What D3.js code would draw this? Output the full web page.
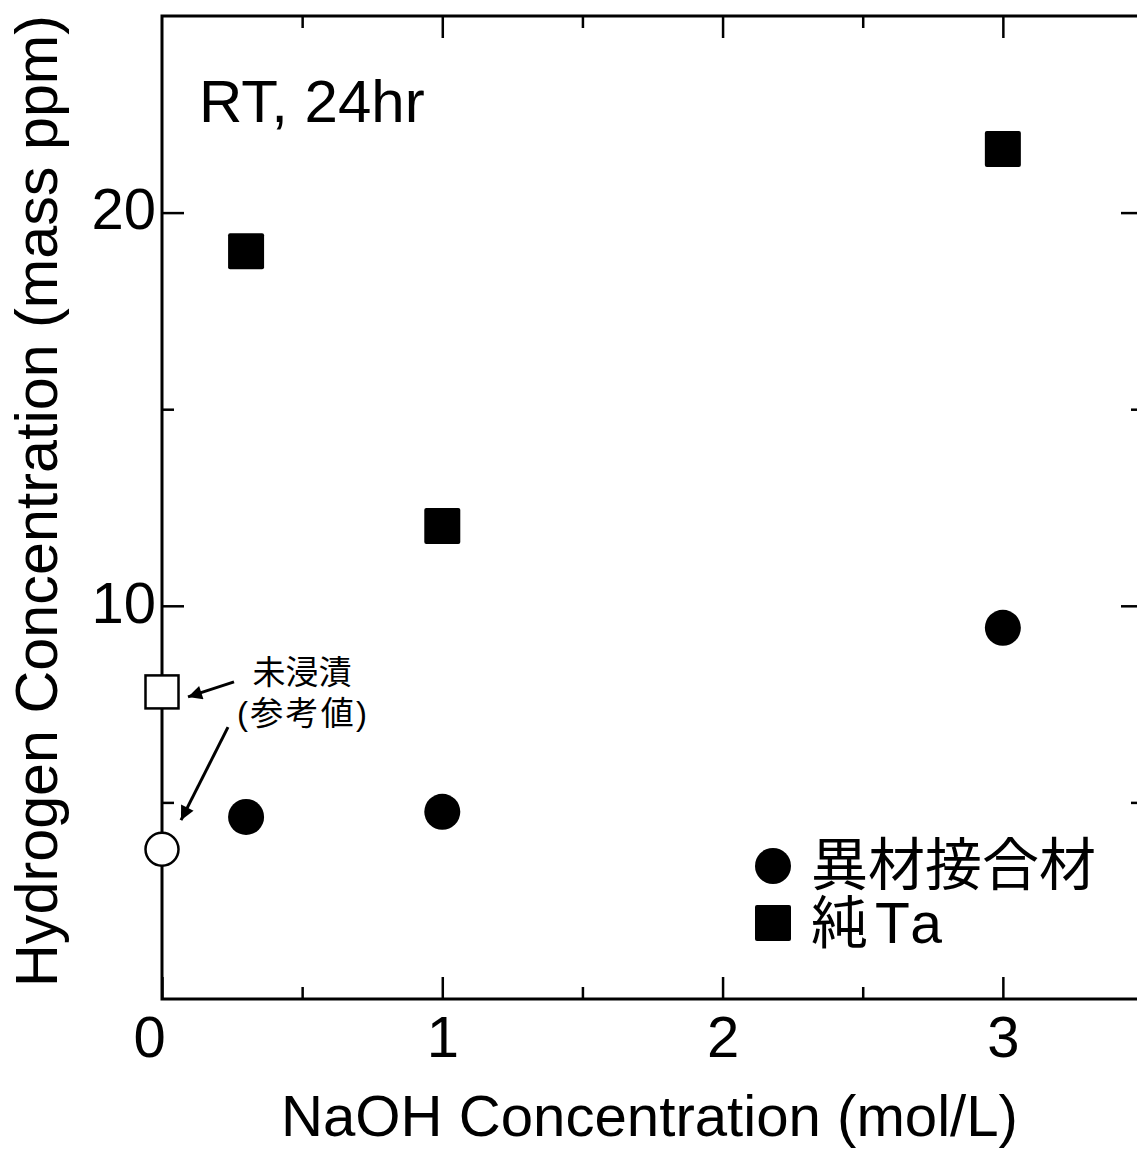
<!DOCTYPE html>
<html>
<head>
<meta charset="utf-8">
<script src="https://cdn.jsdelivr.net/npm/d3@7/dist/d3.min.js"></script>
<style>
  html, body { margin: 0; padding: 0; background: #fff; }
  svg { display: block; }
  text { fill: #000; }
</style>
</head>
<body>
<svg id="chart" width="1137" height="1151"></svg>
<script>
// NaOH concentration (mol/L) of the immersion tests
const naohConc = [0.3, 1, 3];
// Hydrogen concentration (mass ppm) after 24 h at room temperature
const bondedH = [4.63, 4.76, 9.44];   // 異材接合材
const pureTaH = [19.02, 12.03, 21.62]; // 純Ta
// Non-immersed reference values, plotted at 0 mol/L
const refConc = [0];
const refBondedH = [3.81];
const refPureTaH = [7.81];

const xMajorTicks = [0, 1, 2, 3];
const xMinorTicks = [0.5, 1.5, 2.5, 3.5];
const yMajorTicks = [10, 20];
const yMinorTicks = [5, 15];

const legendLabels = ["異材接合材", "純Ta"];
const noteLines = ["未浸漬", "(参考値)"];

const LATIN = "'Liberation Sans', Arial, Helvetica, sans-serif";
// Latin glyphs from Liberation Sans, kanji from Noto Sans CJK
const MIXED = "'Liberation Sans', 'Noto Sans CJK JP', 'Noto Sans CJK SC', sans-serif";

const svg = d3.select("#chart");
const plotLeft = 162, plotTop = 16, plotRight = 1143, plotBottom = 999;

const x = d3.scaleLinear().domain([0, 3.5]).range([plotLeft, plotRight]);
const y = d3.scaleLinear().domain([0, 25]).range([plotBottom, plotTop]);

// frame
svg.append("rect")
  .attr("x", plotLeft).attr("y", plotTop)
  .attr("width", plotRight - plotLeft).attr("height", plotBottom - plotTop)
  .attr("fill", "none").attr("stroke", "#000").attr("stroke-width", 3);

function styleAxis(g) {
  g.select(".domain").remove();
  g.selectAll(".tick line").attr("stroke", "#000").attr("stroke-width", 2.5);
}

// bottom axis: inward ticks + labels
const xAxisG = svg.append("g").attr("transform", `translate(0,${plotBottom})`)
  .call(d3.axisBottom(x).tickValues(xMajorTicks).tickSize(-22).tickPadding(16).tickFormat(d3.format("d")))
  .call(styleAxis);
xAxisG.selectAll(".tick text")
  .attr("font-family", LATIN).attr("font-size", 58)
  .attr("y", 58).attr("dy", 0)
  .attr("dx", d => d === 0 ? -13 : 0);
svg.append("g").attr("transform", `translate(0,${plotBottom})`)
  .call(d3.axisBottom(x).tickValues(xMinorTicks).tickSize(-12).tickFormat(""))
  .call(styleAxis);

// top axis ticks
svg.append("g").attr("transform", `translate(0,${plotTop})`)
  .call(d3.axisTop(x).tickValues(xMajorTicks.filter(d => d > 0)).tickSize(-22).tickFormat(""))
  .call(styleAxis);
svg.append("g").attr("transform", `translate(0,${plotTop})`)
  .call(d3.axisTop(x).tickValues(xMinorTicks).tickSize(-12).tickFormat(""))
  .call(styleAxis);

// left axis
const yAxisG = svg.append("g").attr("transform", `translate(${plotLeft},0)`)
  .call(d3.axisLeft(y).tickValues(yMajorTicks).tickSize(-22).tickPadding(9).tickFormat(d3.format("d")))
  .call(styleAxis);
yAxisG.selectAll(".tick text")
  .attr("font-family", LATIN).attr("font-size", 58)
  .attr("x", -6).attr("dy", "0.28em");
svg.append("g").attr("transform", `translate(${plotLeft},0)`)
  .call(d3.axisLeft(y).tickValues(yMinorTicks).tickSize(-12).tickFormat(""))
  .call(styleAxis);

// right axis ticks
svg.append("g").attr("transform", `translate(${plotRight},0)`)
  .call(d3.axisRight(y).tickValues(yMajorTicks).tickSize(-22).tickFormat(""))
  .call(styleAxis);
svg.append("g").attr("transform", `translate(${plotRight},0)`)
  .call(d3.axisRight(y).tickValues(yMinorTicks).tickSize(-12).tickFormat(""))
  .call(styleAxis);

// axis titles
svg.append("text")
  .attr("x", 281).attr("y", 1136)
  .attr("font-family", LATIN).attr("font-size", 57)
  .attr("textLength", 737).attr("lengthAdjust", "spacingAndGlyphs")
  .text("NaOH Concentration (mol/L)");

svg.append("text")
  .attr("transform", "translate(57,987) rotate(-90)")
  .attr("font-family", LATIN).attr("font-size", 60)
  .attr("textLength", 972).attr("lengthAdjust", "spacingAndGlyphs")
  .text("Hydrogen Concentration (mass ppm)");

// condition label
svg.append("text")
  .attr("x", 199).attr("y", 122)
  .attr("font-family", LATIN).attr("font-size", 60)
  .text("RT, 24hr");

// markers
const SQ = 36, R = 18;
function squares(xs, ys, filled, side) {
  svg.append("g").selectAll("rect")
    .data(xs.map((d, i) => [d, ys[i]]))
    .join("rect")
    .attr("x", d => x(d[0]) - side / 2)
    .attr("y", d => y(d[1]) - side / 2)
    .attr("width", side).attr("height", side)
    .attr("rx", filled ? 2 : 0)
    .attr("fill", filled ? "#000" : "#fff")
    .attr("stroke", "#000").attr("stroke-width", filled ? 0 : 2.5);
}
function circles(xs, ys, filled, r) {
  svg.append("g").selectAll("circle")
    .data(xs.map((d, i) => [d, ys[i]]))
    .join("circle")
    .attr("cx", d => x(d[0]))
    .attr("cy", d => y(d[1]))
    .attr("r", r)
    .attr("fill", filled ? "#000" : "#fff")
    .attr("stroke", "#000").attr("stroke-width", filled ? 0 : 2.5);
}
squares(naohConc, pureTaH, true, SQ);
circles(naohConc, bondedH, true, R);
squares(refConc, refPureTaH, false, 33);
circles(refConc, refBondedH, false, 16.5);

// reference-value annotation
const defs = svg.append("defs");
defs.append("marker")
  .attr("id", "arrowhead")
  .attr("viewBox", "0 0 10 10")
  .attr("refX", 10).attr("refY", 5)
  .attr("markerUnits", "userSpaceOnUse")
  .attr("markerWidth", 22).attr("markerHeight", 14)
  .attr("orient", "auto")
  .append("path").attr("d", "M0,0 L10,5 L0,10 Z").attr("fill", "#000");

const ann = svg.append("g");
ann.append("line")
  .attr("x1", x(0) + 72).attr("y1", y(refPureTaH[0]) - 10)
  .attr("x2", x(0) + 26).attr("y2", y(refPureTaH[0]) + 5)
  .attr("stroke", "#000").attr("stroke-width", 3)
  .attr("marker-end", "url(#arrowhead)");
ann.append("line")
  .attr("x1", x(0) + 66).attr("y1", y(refBondedH[0]) - 122)
  .attr("x2", x(0) + 19).attr("y2", y(refBondedH[0]) - 29)
  .attr("stroke", "#000").attr("stroke-width", 3)
  .attr("marker-end", "url(#arrowhead)");
// two-line note as one text block
const note = ann.append("text")
  .attr("text-anchor", "middle")
  .attr("font-family", MIXED).attr("font-size", 33);
note.append("tspan").attr("x", 302).attr("y", 684).text(noteLines[0]);
note.append("tspan").attr("x", 302).attr("y", 725)
  .attr("textLength", 130).attr("lengthAdjust", "spacing")
  .text(noteLines[1]);

// legend
const legend = svg.append("g");
legend.append("circle").attr("cx", 773).attr("cy", 866).attr("r", R).attr("fill", "#000");
legend.append("rect").attr("x", 773 - 18).attr("y", 923 - 18)
  .attr("width", SQ).attr("height", SQ).attr("rx", 2).attr("fill", "#000");
const legendText = legend.append("text")
  .attr("font-family", MIXED).attr("font-size", 57);
legendText.append("tspan").attr("x", 811).attr("y", 885).text(legendLabels[0]);
legendText.append("tspan").attr("x", 811).attr("y", 943)
  .attr("textLength", 131).attr("lengthAdjust", "spacing")
  .text(legendLabels[1]);
</script>
</body>
</html>
